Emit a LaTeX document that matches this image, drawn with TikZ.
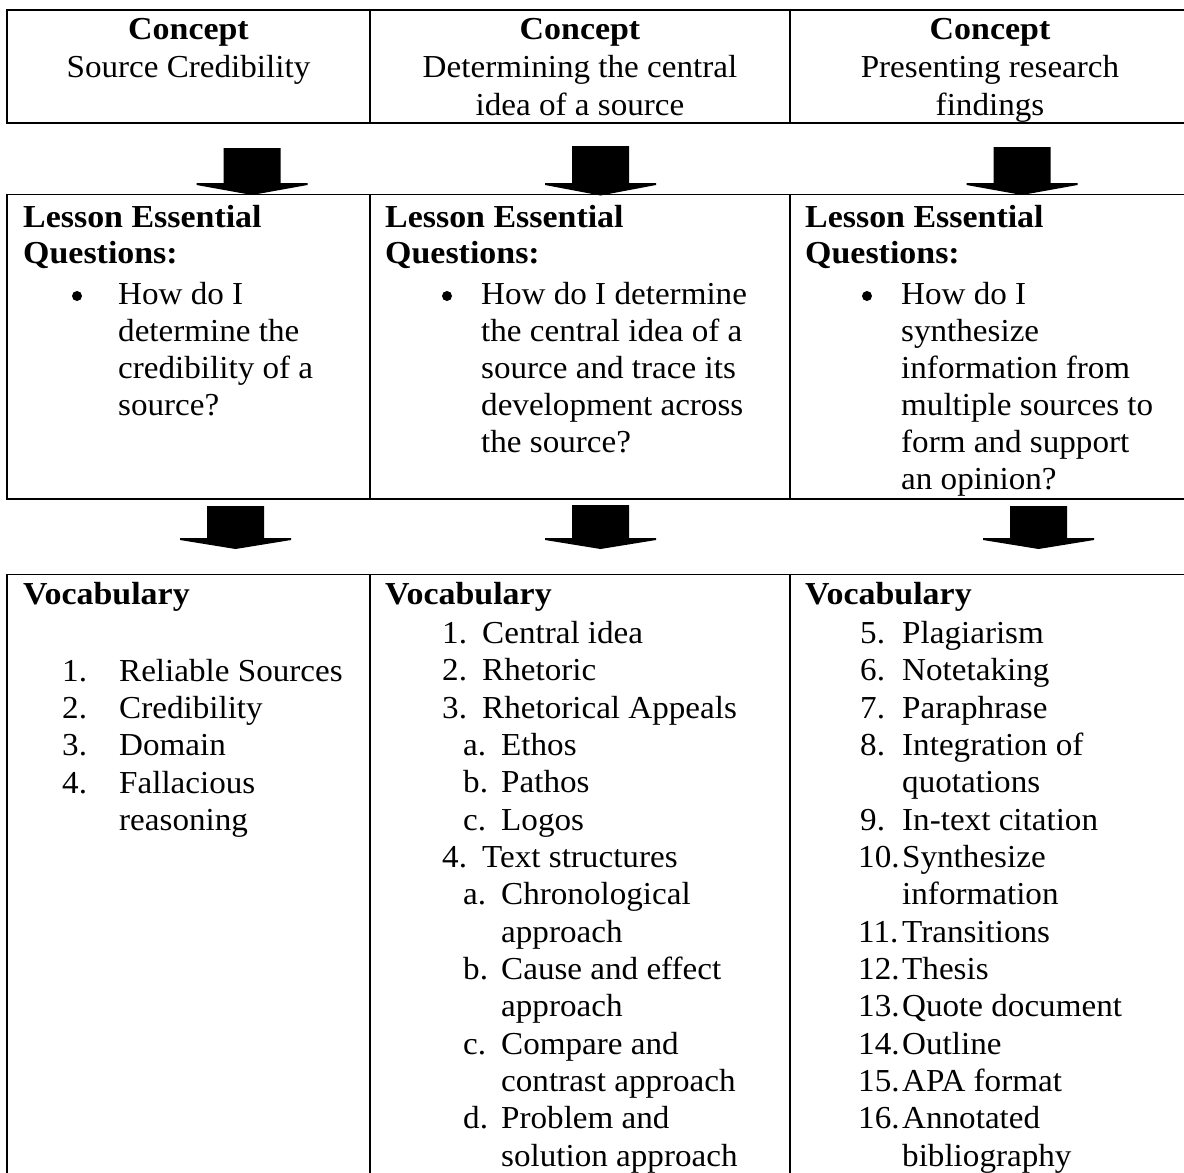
\documentclass[tikz,border=0pt]{standalone}
\usepackage{fontspec}
\setmainfont{Liberation Serif}[FakeStretch=1.035,BoldFeatures={FakeStretch=1.06}]
\newcommand\blockarr[5]{%
  \coordinate (#5) at (#1,#4);
  \fill (#1-28.5,#2) -- (#1+28.5,#2) -- (#1+28.5,#3) -- (#1+55.5,#3) -- (#1+55.5,#3+2) -- (#5) -- (#1-55.5,#3+2) -- (#1-55.5,#3) -- (#1-28.5,#3) -- cycle;}
\tikzset{
  txt/.style={anchor=base west, inner sep=0pt, font=\fontsize{32}{37.3}\selectfont},
  ctxt/.style={txt, anchor=base},
  btxt/.style={txt, font=\fontsize{32}{37.3}\selectfont\bfseries},
  bctxt/.style={btxt, anchor=base},
  bul/.style={circle, fill, inner sep=0pt, minimum size=10pt},
  grid/.style={line width=1.6pt}
}
\begin{document}
\begin{tikzpicture}[x=1pt,y=-1pt]
\useasboundingbox (0,0) rectangle (1184,1173);
% table lines
\draw[grid] (7,10) rectangle (1190,123);
\draw[grid] (370,10) -- (370,123) (790,10) -- (790,123);
\draw[grid] (7,194.5) rectangle (1190,499);
\draw[grid] (370,194.5) -- (370,499) (790,194.5) -- (790,499);
\draw[grid] (7,1185) -- (7,574.5) -- (1190,574.5);
\draw[grid] (370,574.5) -- (370,1185) (790,574.5) -- (790,1185);
% arrows
\blockarr{252}{148}{183}{195}{t1}
\blockarr{600.5}{146}{183}{195.5}{t2}
\blockarr{1022}{147}{183}{195}{t3}
\blockarr{235.5}{506}{538}{549}{m1}
\blockarr{600.5}{505}{538}{549}{m2}
\blockarr{1038.5}{506}{538}{549}{m3}
% row 1
\node[bctxt] (k1) at (188.5,39) {Concept};
\node[ctxt] (k1a) at (188.5,77) {Source Credibility};
\node[bctxt] (k2) at (580,39) {Concept};
\node[ctxt] (k2a) at (580,77) {Determining the central};
\node[ctxt] (k2b) at (580,115) {idea of a source};
\node[bctxt] (k3) at (990,39) {Concept};
\node[ctxt] (k3a) at (990,77) {Presenting research};
\node[ctxt] (k3b) at (990,115) {findings};
% row 2
\node[btxt] (q1h) at (23,227) {Lesson Essential};
\node[btxt] (q1q) at (23,263) {Questions:};
\node[bul] (q1b) at (77,296) {};
\node[txt] (q1l1) at (118,304) {How do I};
\node[txt] (q1l2) at (118,341) {determine the};
\node[txt] (q1l3) at (118,378) {credibility of a};
\node[txt] (q1l4) at (118,415) {source?};
\node[btxt] (q2h) at (385,227) {Lesson Essential};
\node[btxt] (q2q) at (385,263) {Questions:};
\node[bul] (q2b) at (447,296) {};
\node[txt] (q2l1) at (481,304) {How do I determine};
\node[txt] (q2l2) at (481,341) {the central idea of a};
\node[txt] (q2l3) at (481,378) {source and trace its};
\node[txt] (q2l4) at (481,415) {development across};
\node[txt] (q2l5) at (481,452) {the source?};
\node[btxt] (q3h) at (805,227) {Lesson Essential};
\node[btxt] (q3q) at (805,263) {Questions:};
\node[bul] (q3b) at (867,296) {};
\node[txt] (q3l1) at (901,304) {How do I};
\node[txt] (q3l2) at (901,341) {synthesize};
\node[txt] (q3l3) at (901,378) {information from};
\node[txt] (q3l4) at (901,415) {multiple sources to};
\node[txt] (q3l5) at (901,452) {form and support};
\node[txt] (q3l6) at (901,489) {an opinion?};
% row 3 col 1
\node[btxt] (v1h) at (23,604) {Vocabulary};
\node[txt] (v1n1) at (62,681) {1.};
\node[txt] (v1t1) at (119,681) {Reliable Sources};
\node[txt] (v1n2) at (62,718) {2.};
\node[txt] (v1t2) at (119,718) {Credibility};
\node[txt] (v1n3) at (62,755) {3.};
\node[txt] (v1t3) at (119,755) {Domain};
\node[txt] (v1n4) at (62,793) {4.};
\node[txt] (v1t4) at (119,793) {Fallacious};
\node[txt] (v1t4b) at (119,830) {reasoning};
% row 3 col 2
\node[btxt] (v2h) at (385,604) {Vocabulary};
\node[txt] (v2n1) at (442,643) {1.};
\node[txt] (v2t1) at (482,643) {Central idea};
\node[txt] (v2n2) at (442,680) {2.};
\node[txt] (v2t2) at (482,680) {Rhetoric};
\node[txt] (v2n3) at (442,718) {3.};
\node[txt] (v2t3) at (482,718) {Rhetorical Appeals};
\node[txt] (v2a1) at (463,755) {a.};
\node[txt] (v2s1) at (501,755) {Ethos};
\node[txt] (v2a2) at (463,792) {b.};
\node[txt] (v2s2) at (501,792) {Pathos};
\node[txt] (v2a3) at (463,830) {c.};
\node[txt] (v2s3) at (501,830) {Logos};
\node[txt] (v2n4) at (442,867) {4.};
\node[txt] (v2t4) at (482,867) {Text structures};
\node[txt] (v2b1) at (463,904) {a.};
\node[txt] (v2u1) at (501,904) {Chronological};
\node[txt] (v2u1b) at (501,942) {approach};
\node[txt] (v2b2) at (463,979) {b.};
\node[txt] (v2u2) at (501,979) {Cause and effect};
\node[txt] (v2u2b) at (501,1016) {approach};
\node[txt] (v2b3) at (463,1054) {c.};
\node[txt] (v2u3) at (501,1054) {Compare and};
\node[txt] (v2u3b) at (501,1091) {contrast approach};
\node[txt] (v2b4) at (463,1128) {d.};
\node[txt] (v2u4) at (501,1128) {Problem and};
\node[txt] (v2u4b) at (501,1166) {solution approach};
% row 3 col 3
\node[btxt] (v3h) at (805,604) {Vocabulary};
\node[txt] (v3n5) at (860,643) {5.};
\node[txt] (v3t5) at (902,643) {Plagiarism};
\node[txt] (v3n6) at (860,680) {6.};
\node[txt] (v3t6) at (902,680) {Notetaking};
\node[txt] (v3n7) at (860,718) {7.};
\node[txt] (v3t7) at (902,718) {Paraphrase};
\node[txt] (v3n8) at (860,755) {8.};
\node[txt] (v3t8) at (902,755) {Integration of};
\node[txt] (v3t8b) at (902,792) {quotations};
\node[txt] (v3n9) at (860,830) {9.};
\node[txt] (v3t9) at (902,830) {In-text citation};
\node[txt] (v3n10) at (858,867) {10.};
\node[txt] (v3t10) at (902,867) {Synthesize};
\node[txt] (v3t10b) at (902,904) {information};
\node[txt] (v3n11) at (858,942) {11.};
\node[txt] (v3t11) at (902,942) {Transitions};
\node[txt] (v3n12) at (858,979) {12.};
\node[txt] (v3t12) at (902,979) {Thesis};
\node[txt] (v3n13) at (858,1016) {13.};
\node[txt] (v3t13) at (902,1016) {Quote document};
\node[txt] (v3n14) at (858,1054) {14.};
\node[txt] (v3t14) at (902,1054) {Outline};
\node[txt] (v3n15) at (858,1091) {15.};
\node[txt] (v3t15) at (902,1091) {APA format};
\node[txt] (v3n16) at (858,1128) {16.};
\node[txt] (v3t16) at (902,1128) {Annotated};
\node[txt] (v3t16b) at (902,1166) {bibliography};
\end{tikzpicture}
\end{document}
